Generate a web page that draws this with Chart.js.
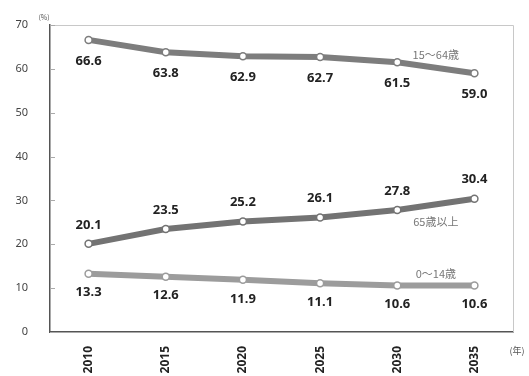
<!DOCTYPE html>
<html>
<head>
<meta charset="utf-8">
<script src="https://cdn.jsdelivr.net/npm/chart.js@4.4.0/dist/chart.umd.min.js"></script>
<style>
  html, body { margin: 0; padding: 0; background: #fff; }
  #wrap { width: 529px; height: 376px; position: relative; }
</style>
</head>
<body>
<div id="wrap"><canvas id="graph"></canvas></div>
<script>
// 年齢区分別人口割合の推移
var years = ['2010', '2015', '2020', '2025', '2030', '2035'];
var working = [66.6, 63.8, 62.9, 62.7, 61.5, 59.0];   // 15〜64歳
var elderly = [20.1, 23.5, 25.2, 26.1, 27.8, 30.4];   // 65歳以上
var children = [13.3, 12.6, 11.9, 11.1, 10.6, 10.6];  // 0〜14歳
var yTicks = [0, 10, 20, 30, 40, 50, 60, 70];

var seriesNames = ['15〜64歳', '65歳以上', '0〜14歳'];

// value labels: below for 15-64 and 0-14, above for 65+
var labelOffset = [21, -19, 19];
// series name: shift from the 2030-2035 midpoint
var nameOffset = [-13, 17, -12];

var labelPlugin = {
    id: 'labels',
    afterDatasetsDraw: function(chart) {
        var ctx = chart.ctx;
        var area = chart.chartArea;
        var y = chart.scales.y;

        ctx.save();
        // top and right frame
        ctx.strokeStyle = '#c8c8c8';
        ctx.lineWidth = 1;
        ctx.beginPath();
        ctx.moveTo(area.left, area.top + 0.5);
        ctx.lineTo(area.right + 0.5, area.top + 0.5);
        ctx.lineTo(area.right + 0.5, area.bottom);
        ctx.stroke();

        // small inner ticks on the y axis
        ctx.strokeStyle = '#aaa';
        yTicks.forEach(function(v) {
            var py = Math.round(y.getPixelForValue(v)) + 0.5;
            ctx.beginPath();
            ctx.moveTo(area.left, py);
            ctx.lineTo(area.left + 5, py);
            ctx.stroke();
        });

        ctx.textAlign = 'center';
        ctx.textBaseline = 'middle';
        chart.data.datasets.forEach(function(ds, i) {
            var meta = chart.getDatasetMeta(i);
            ctx.fillStyle = '#222';
            ctx.font = 'bold 13px "Noto Sans", sans-serif';
            meta.data.forEach(function(pt, j) {
                ctx.fillText(ds.data[j].toFixed(1), pt.x, pt.y + labelOffset[i]);
            });
            var a = meta.data[4], b = meta.data[5];
            ctx.fillStyle = '#777';
            ctx.font = '11px "Noto Sans CJK JP", sans-serif';
            ctx.fillText(seriesNames[i], (a.x + b.x) / 2, (a.y + b.y) / 2 + nameOffset[i]);
        });

        // unit captions
        ctx.fillStyle = '#555';
        ctx.font = '7px "Noto Sans CJK JP", sans-serif';
        ctx.fillText('(%)', area.left - 6, area.top - 8);
        ctx.font = '9px "Noto Sans CJK JP", sans-serif';
        ctx.fillText('(年)', area.right + 4, area.bottom + 19);
        ctx.restore();
    }
};

function lineSet(label, data, color) {
    return {
        label: label,
        data: data,
        borderColor: color,
        borderWidth: 6,
        tension: 0,
        pointRadius: 3.5,
        pointBorderWidth: 1.5,
        pointBackgroundColor: '#fff',
        pointBorderColor: color
    };
}

var ctx = document.getElementById('graph').getContext('2d');
var chart = new Chart(ctx, {
    type: 'line',
    data: {
        labels: years,
        datasets: [
            lineSet(seriesNames[0], working, '#7d7d7d'),
            lineSet(seriesNames[1], elderly, '#737373'),
            lineSet(seriesNames[2], children, '#9c9c9c')
        ]
    },
    options: {
        responsive: true,
        maintainAspectRatio: false,
        animation: false,
        layout: { padding: { top: 25, right: 16, left: 0, bottom: 0 } },
        plugins: {
            legend: { display: false },
            tooltip: { enabled: false }
        },
        scales: {
            x: {
                offset: true,
                grid: { display: false },
                border: { display: true, color: '#555', width: 1.5 },
                ticks: {
                    minRotation: 90,
                    maxRotation: 90,
                    color: '#222',
                    padding: 6,
                    font: { family: '"Noto Sans", sans-serif', size: 12, weight: 'bold' }
                },
                afterFit: function(scale) { scale.height = 44; }
            },
            y: {
                min: 0,
                max: 70,
                grid: { display: false },
                border: { display: true, color: '#555', width: 1.5 },
                ticks: {
                    stepSize: 10,
                    color: '#444',
                    padding: 14,
                    font: { family: '"Noto Sans", sans-serif', size: 11 }
                },
                afterFit: function(scale) { scale.width = 50; }
            }
        }
    },
    plugins: [labelPlugin]
});
</script>
</body>
</html>
